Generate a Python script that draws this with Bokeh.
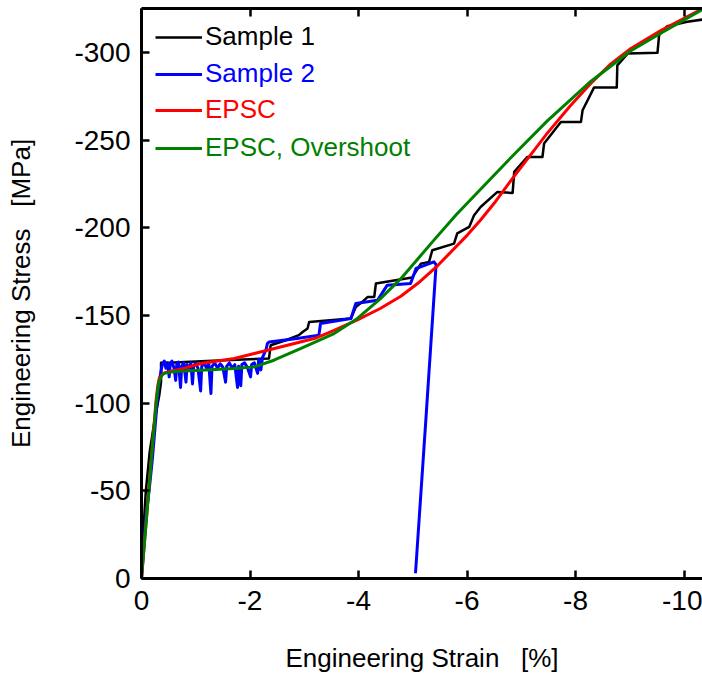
from bokeh.plotting import figure
from bokeh.models import Range1d, FixedTicker, LinearAxis, Legend, LegendItem
from bokeh.embed import file_html
from bokeh.resources import INLINE

# ---------------- data (magnitudes; plotted as negatives) -------------
s1_strain = [0, 0.03, 0.08, 0.15, 0.24, 0.33, 0.36, 0.36, 0.5, 0.8, 1.2, 1.65, 2.35, 2.38, 2.66,
             2.90, 2.97, 3.06, 3.09, 3.86, 3.95, 4.07, 4.17, 4.29, 4.32, 4.99, 5.15, 5.30, 5.36,
             5.76, 5.82, 6.04, 6.13, 6.25, 6.56, 6.84, 6.87, 7.11, 7.39, 7.42, 7.73, 8.10, 8.13,
             8.34, 8.76, 8.77, 8.96, 9.51, 9.54, 9.69, 10.06, 10.34]
s1_stress = [0, 25, 50, 72, 90, 105, 112, 123, 123, 123.5, 124, 124.6, 125.5, 133, 135.9,
             138.8, 140.6, 142.6, 146.3, 148.3, 154.9, 157.8, 160.6, 160.6, 168.2, 171.7, 179.6,
             180.6, 187.2, 191, 196.8, 200.5, 207.2, 211.9, 220.5, 219.9, 231.9, 240.4, 240.4,
             248.1, 260.4, 260.4, 267.1, 280, 280, 292.7, 299.4, 299.8, 309.9, 315, 317.5, 318.8]

s2_strain = [0, 0.04, 0.08, 0.14, 0.2, 0.26, 0.3, 0.33, 0.37, 0.39,
             0.42, 0.45, 0.48, 0.51, 0.53, 0.56, 0.6, 0.63, 0.65, 0.68, 0.72, 0.74, 0.78, 0.82,
             0.84, 0.88, 0.91, 0.94, 0.96, 1.0, 1.04, 1.09, 1.11, 1.15, 1.2, 1.24, 1.28, 1.3,
             1.35, 1.4, 1.45, 1.5, 1.55, 1.57, 1.62, 1.67, 1.72, 1.77, 1.79, 1.83, 1.85, 1.9,
             1.95, 2.01, 2.03, 2.08, 2.14, 2.16, 2.2, 2.23, 2.3, 2.32, 2.35, 2.87, 3.27, 3.30,
             3.86, 3.95, 4.35, 4.53, 4.96, 5.06, 5.39, 5.43, 5.24, 5.05]
s2_stress = [0, 18, 35, 50, 68, 90, 105, 113, 120, 122.6,
             124, 120, 123, 115, 122, 124, 120, 113, 122, 123.5, 109, 121, 123, 112,
             122, 120, 123, 111, 121, 123, 120, 107, 121, 123, 120, 122.5, 105.5, 121,
             123, 120, 122.5, 120.5, 112, 121, 123, 120, 122, 109, 121, 110, 122, 123,
             120.5, 115, 122, 123, 117, 125, 119, 126, 131, 134, 134.9, 136.9, 138.8, 145.4,
             148.3, 156.8, 158.7, 167.3, 168.2, 176.8, 180.6, 179, 90, 3]

epsc_strain = [0, 0.1, 0.2, 0.27, 0.3, 0.33, 0.4, 0.48, 0.8, 1.09, 1.71, 2.08, 2.69, 3.2, 3.55,
               3.98, 4.4, 4.78, 5.1, 5.46, 6.01, 6.25, 6.5, 6.87, 7.48, 7.9, 8.28, 8.65, 9.02,
               9.57, 10.34]
epsc_stress = [0, 38, 76, 102, 110, 114.5, 117, 117.8, 120, 122.6, 125.5, 128.3, 133, 137, 141.5,
               147.5, 154, 161, 168.5, 178.5, 196, 204.5, 214, 229.5, 254, 269.5, 282.3, 293.5, 302.3,
               312.5, 325]

over_strain = [0, 0.1, 0.2, 0.27, 0.3, 0.33, 0.38, 0.42, 0.6, 1.09, 1.71, 2.08, 2.44, 2.94, 3.55,
               3.98, 4.4, 4.78, 5.39, 5.8, 6.25, 6.87, 7.48, 8.28, 9.02, 9.57, 10.34]
over_stress = [0, 37, 75, 100, 108, 113, 116, 117, 118, 118.8, 119.8, 120.7, 124.5, 131.2, 139.7,
               148.3, 159.5, 171, 193, 207.5, 222, 242, 261, 283.5, 301, 311, 324.5]

x_ticks = [0, -2, -4, -6, -8, -10]
x_tick_labels = ["0", "-2", "-4", "-6", "-8", "-10"]
y_ticks = [0, -50, -100, -150, -200, -250, -300]
y_tick_labels = ["0", "-50", "-100", "-150", "-200", "-250", "-300"]

series = [
    ("Sample 1", s1_strain, s1_stress, "#000000", 2.5),
    ("Sample 2", s2_strain, s2_stress, "#0000FF", 3),
    ("EPSC", epsc_strain, epsc_stress, "#FF0000", 3),
    ("EPSC, Overshoot", over_strain, over_stress, "#008000", 3),
]

FONT = "Liberation Sans"

p = figure(width=702, height=678, output_backend="svg", toolbar_location=None,
           x_range=Range1d(0, -10.34), y_range=Range1d(0, -325.1),
           min_border_left=141, min_border_right=0, min_border_top=8, min_border_bottom=100,
           x_axis_label="Engineering Strain \u00a0 [%]",
           y_axis_label="Engineering Stress \u00a0 [MPa]")
p.outline_line_color = None
p.grid.visible = False
p.background_fill_color = "white"
p.border_fill_color = "white"

for ax, ticks, labels in ((p.xaxis[0], x_ticks, x_tick_labels), (p.yaxis[0], y_ticks, y_tick_labels)):
    ax.ticker = FixedTicker(ticks=ticks)
    ax.major_label_overrides = {t: l for t, l in zip(ticks, labels)}
    ax.major_tick_in = 8
    ax.major_tick_out = 0
    ax.minor_tick_line_color = None
    ax.axis_line_width = 3
    ax.major_tick_line_width = 2.5
    ax.major_label_text_font = FONT
    ax.major_label_text_font_size = "28px"
    ax.major_label_text_color = "black"
    ax.axis_label_text_font = FONT
    ax.axis_label_text_font_size = "26px"
    ax.axis_label_text_font_style = "normal"
    ax.axis_label_text_color = "black"

p.xaxis[0].major_label_standoff = 12
p.xaxis[0].axis_label_standoff = 30
p.yaxis[0].major_label_standoff = 11
p.yaxis[0].axis_label_standoff = 35

top = LinearAxis(ticker=FixedTicker(ticks=x_ticks), major_tick_in=8, major_tick_out=0,
                 minor_tick_line_color=None, axis_line_width=3, major_tick_line_width=2.5,
                 major_label_text_color=None, major_label_standoff=0)
p.add_layout(top, "above")

renderers = []
for name, xs, ys, color, lw in series:
    r = p.line([-v for v in xs], [-v for v in ys], line_color=color, line_width=lw,
               line_join="round")
    renderers.append((name, r, color))

row_bottoms = [526, 489, 453, 415]
for (name, r, color), yb in zip(renderers, row_bottoms):
    leg = Legend(items=[LegendItem(label=name, renderers=[r])], location=(14, yb),
                 label_text_color=color, label_text_font=FONT, label_text_font_size="26px",
                 glyph_width=47, glyph_height=20, label_standoff=3, label_height=20,
                 padding=0, margin=0, border_line_color=None, background_fill_alpha=0)
    p.add_layout(leg, "center")

open("out.html", "w").write(file_html(p, INLINE))
